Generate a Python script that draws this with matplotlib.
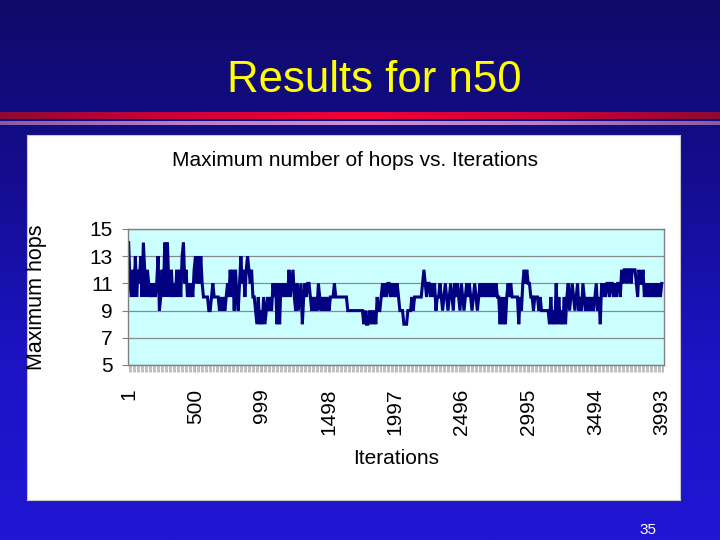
import numpy as np
import matplotlib
matplotlib.use("Agg")
import matplotlib.pyplot as plt
from matplotlib.colors import LinearSegmentedColormap

plt.rcParams['font.family'] = ['Liberation Sans', 'DejaVu Sans']

# max hops sampled every 10 iterations, one hex digit per sample (A=10 ... E=14)
hops_1_500 = "EBACADACBDAECACBABABABD9ACAEAEBACABACACADEBCABABAC"
hops_501_1000 = "DBDBDBAAAA99ABAAAA9A9A9ABACAC9CA9BDBCACDCBCAA98A89"
hops_1001_1500 = "8A89A9A9BAB8B8BABABACABCA9B9AB8ABABBA9A9A9BA9A9A9A"
hops_1501_2000 = "9AAABAAAAAAAAA9999999999998988989898A99ABABABBABAB"
hops_2001_2500 = "ABA999888999A9AAAAAABCBABBABAB9AABA9ABA9ABA9BABA9B"
hops_2501_3000 = "A9ABABA9ABA9ABABABABABABABAA8A8A8ABABAAAAA8A9BCBCB"
hops_3001_3500 = "BAA9AAA9A9999998A898B8A898A8AB9ABA9AB9A9BA9A9A9A9A"
hops_3501_4000 = "B9A8BABABBABBABABBACBCCBCCBCCCBACBBCABABABABABABAB"

chunks = [hops_1_500, hops_501_1000, hops_1001_1500, hops_1501_2000,
          hops_2001_2500, hops_2501_3000, hops_3001_3500, hops_3501_4000]
hops = np.array([int(c, 16) for c in "".join(chunks)])
iters = 1 + 10 * np.arange(len(hops))

xtick_vals = [1, 500, 999, 1498, 1997, 2496, 2995, 3494, 3993]
ytick_vals = [5, 7, 9, 11, 13, 15]

W, H = 720, 540
fig = plt.figure(figsize=(7.2, 5.4), dpi=100)

# slide background gradient
bg = fig.add_axes([0, 0, 1, 1])
bg_cmap = LinearSegmentedColormap.from_list('bg', ['#100a68', '#140d90', '#1c13c4', '#2016d4'])
bg.imshow(np.linspace(0, 1, 256).reshape(-1, 1), cmap=bg_cmap, aspect='auto', extent=[0, 1, 0, 1])
bg.axis('off')

# header stripes
red = fig.add_axes([0, 1 - 119 / H, 1, 7 / H])
red_cmap = LinearSegmentedColormap.from_list('red', ['#f00038', '#d0003a', '#8c0a34'])
red.imshow(np.abs(np.linspace(-1, 1, 512)).reshape(1, -1), cmap=red_cmap, aspect='auto')
red.axis('off')
pink = fig.add_axes([0, 1 - 125 / H, 1, 4 / H])
pink_cmap = LinearSegmentedColormap.from_list('pink', ['#d090d8', '#b880c4', '#8c5aa0'])
pink.imshow(np.abs(np.linspace(-1, 1, 512)).reshape(1, -1), cmap=pink_cmap, aspect='auto')
pink.axis('off')

fig.text(374 / W, 1 - 80 / H, "Results for n50", color='#ffff00', fontsize=31.5,
         ha='center', va='center')

# white chart panel
panel = fig.add_axes([27 / W, 1 - 500 / H, 653 / W, 365 / H])
panel.set_facecolor('white')
panel.set_xticks([])
panel.set_yticks([])
for s in panel.spines.values():
    s.set_color('#c8c8c8')

ax = fig.add_axes([128 / W, 1 - 365 / H, 536 / W, 136 / H])
ax.set_facecolor('#ccffff')
ax.plot(iters, hops, color='#000080', lw=2.2, solid_joinstyle='miter')
ax.set_ylim(5, 15)
ax.set_xlim(-4, 4008)
ax.set_yticks(ytick_vals)
ax.set_xticks(xtick_vals)
ax.set_xticklabels([str(v) for v in xtick_vals], rotation=90)
ax.set_xticks(np.arange(1, 4008, 10), minor=True)
ax.tick_params(axis='x', which='minor', length=5, width=0.5, color='#a8a8a8')
ax.tick_params(axis='x', which='major', length=5, width=0.5, color='#a8a8a8',
               labelsize=15, pad=12)
ax.tick_params(axis='y', length=4, width=0.8, color='#808080', labelsize=15, pad=7)
ax.grid(axis='y', color='#8a8a8a', lw=0.9)
ax.set_axisbelow(True)
for s in ax.spines.values():
    s.set_color('#808080')
    s.set_linewidth(1.0)

fig.text(355 / W, 1 - 161 / H, "Maximum number of hops vs. Iterations",
         fontsize=15, ha='center', va='center')
fig.text(37 / W, 1 - 297 / H, "Maximum hops", fontsize=15.5, rotation=90,
         ha='center', va='center')
fig.text(396 / W, 1 - 458 / H, "Iterations", fontsize=15, ha='center', va='center')

fig.text(648 / W, 1 - 530 / H, "35", color='white', fontsize=11, ha='center', va='center')

plt.savefig("out.png", dpi=100)
